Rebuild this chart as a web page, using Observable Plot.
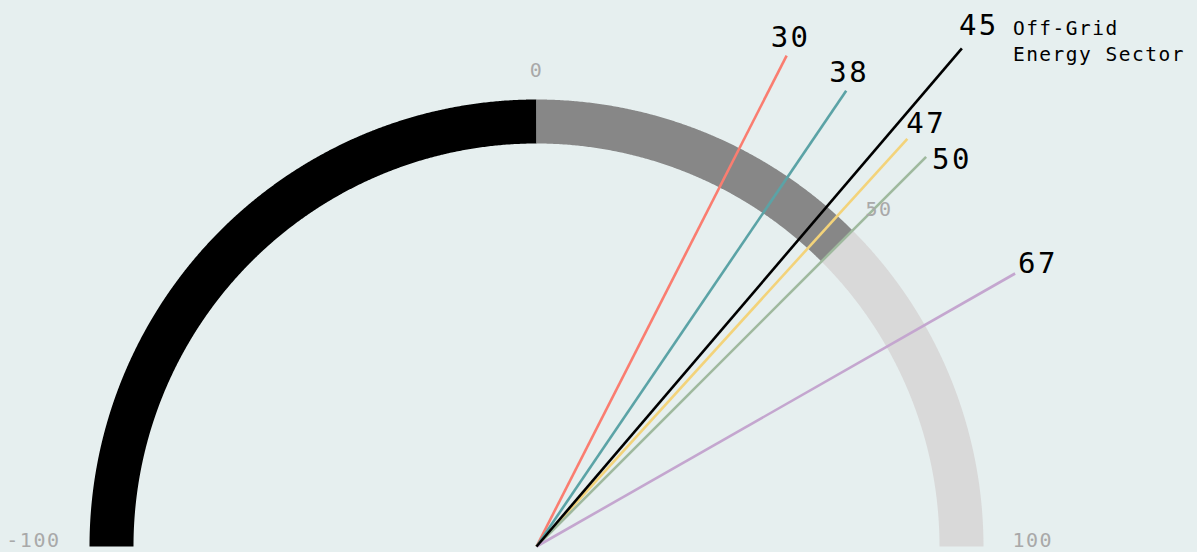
<!DOCTYPE html>
<html>
<head>
<meta charset="utf-8">
<script src="https://cdn.jsdelivr.net/npm/d3@7"></script>
<script src="https://cdn.jsdelivr.net/npm/@observablehq/plot@0.6"></script>
<style>
  html, body { margin: 0; padding: 0; background: #e6efef; }
  #chart svg { display: block; }
</style>
</head>
<body>
<div id="chart"></div>
<script>
// ---- data ----
const lineValues = [30, 38, 47, 50, 67, 45];
const lineNames  = ["", "", "", "", "", "Off-Grid\nEnergy Sector"];
const bandFrom   = [-100, 0, 50];
const bandTo     = [0, 50, 100];
const tickValues = [-100, 0, 50, 100];
const tickLabels = ["-100", "0", "50", "100"];

// ---- styling ----
const lineColors = ["#fa7d70", "#5ba3a6", "#f3d37a", "#9fb99e", "#c4a6cf", "#000000"];
const bandColors = ["#000000", "#878787", "#d9d9d9"];
const FONT = "DejaVu Sans Mono, monospace";
const R_MID = 425, BAND_W = 44, LINE_LEN = 551, HL_LEN = 655, TICK_R = 476;
// label nudges in px: [dx, dy (down)] from line end to text start / baseline
const labelNudge = {30: [-16, -9], 38: [-17, -9], 45: [-3, -13], 47: [-1, -6], 50: [6, 12], 67: [3, -1]};

const rad = v => v * 0.9 * Math.PI / 180;
const polar = (v, r) => ({x: r * Math.sin(rad(v)), y: r * Math.cos(rad(v))});

// band paths
const bandMarks = bandFrom.map((a, i) => {
  const pts = [];
  for (let v = a; v <= bandTo[i] + 1e-9; v += 0.25) pts.push(polar(v, R_MID));
  return Plot.line(pts, {x: "x", y: "y", stroke: bandColors[i], strokeWidth: BAND_W,
    strokeLinecap: "butt", strokeLinejoin: "miter", curve: "linear"});
});

// lines
const lines = lineValues.map((v, i) => {
  const L = lineNames[i] ? HL_LEN : LINE_LEN;
  const e = polar(v, L);
  const [ndx, ndy] = labelNudge[v] || [0, -10];
  return {value: v, name: lineNames[i], color: lineColors[i], x: e.x, y: e.y,
          lx: e.x + ndx, ly: e.y - ndy, nx: e.x + 51, ny: e.y + 31};
});

const ticks = tickValues.map((v, i) => {
  const p = polar(v, TICK_R);
  return {label: tickLabels[i], x: p.x + (v === 50 ? 6 : 0), y: p.y,
          anchor: v < 0 ? "end" : v > 50 ? "start" : "middle",
          bottom: Math.abs(v) === 100};
});

const plot = Plot.plot({
  width: 1197,
  height: 552,
  margin: 0,
  x: {domain: [-536, 661], range: [0, 1197], axis: null},
  y: {domain: [-6, 546], range: [552, 0], axis: null},
  color: {type: "identity"},
  style: {background: "#e6efef", overflow: "visible"},
  marks: [
    ...bandMarks,
    Plot.link(lines, {x1: 0, y1: 0, x2: "x", y2: "y", stroke: "color", strokeWidth: 2.6}),
    Plot.text(ticks.filter(d => d.bottom), {x: "x", y: "y", text: "label", textAnchor: d => d.anchor,
      lineAnchor: "bottom", fill: "#a9a9a9", fontSize: 20, fontFamily: FONT}),
    Plot.text(ticks.filter(d => !d.bottom), {x: "x", y: "y", text: "label", textAnchor: "middle",
      lineAnchor: "middle", fill: "#a9a9a9", fontSize: 20, fontFamily: FONT}),
    Plot.text(lines, {x: "lx", y: "ly", text: d => String(d.value), textAnchor: "start",
      lineAnchor: "bottom", fill: "#000", fontSize: 29, fontFamily: FONT}),
    Plot.text(lines.filter(d => d.name), {x: "nx", y: "ny", text: "name", textAnchor: "start",
      lineAnchor: "top", lineHeight: 1.3, fill: "#000", fontSize: 19.5, fontFamily: FONT})
  ]
});

// textAnchor per tick + letter spacing per text group
const groups = plot.querySelectorAll('g[aria-label="text"]');
if (groups[0]) {
  const bt = ticks.filter(d => d.bottom);
  groups[0].querySelectorAll("text").forEach((t, i) => t.setAttribute("text-anchor", bt[i].anchor));
  groups[0].style.letterSpacing = "1.5px";
}
if (groups[1]) groups[1].style.letterSpacing = "1.5px";
if (groups[2]) groups[2].style.letterSpacing = "2.5px";
if (groups[3]) groups[3].style.letterSpacing = "1.5px";

document.getElementById("chart").appendChild(plot);
</script>
</body>
</html>
